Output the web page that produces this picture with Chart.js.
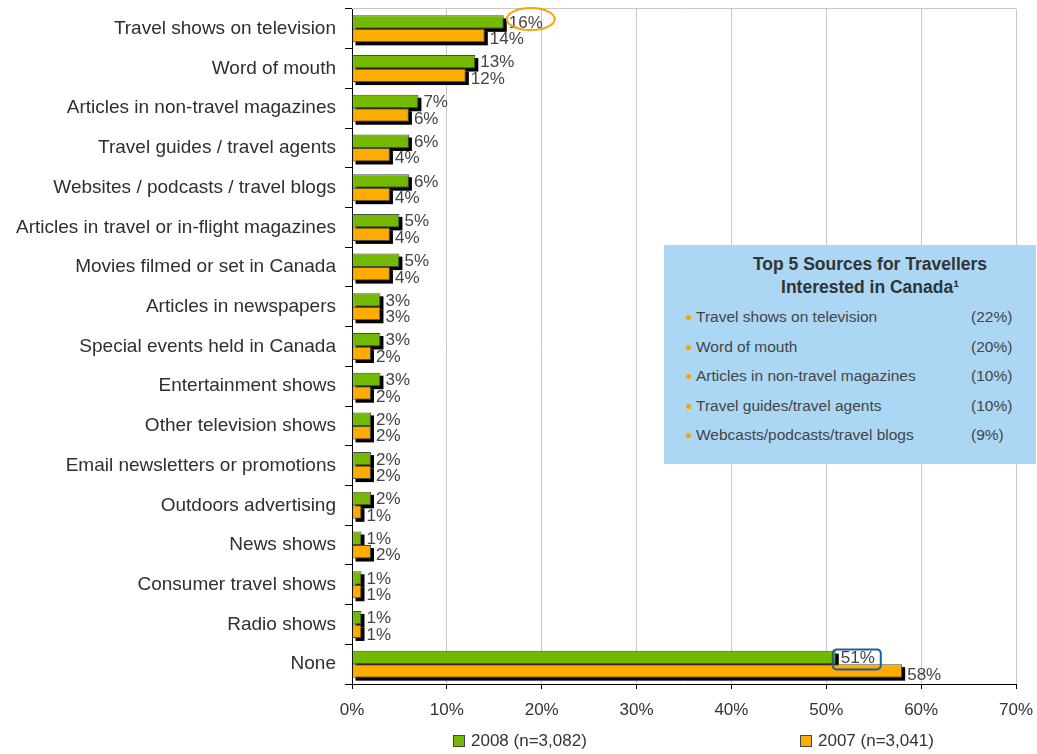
<!DOCTYPE html>
<html>
<head>
<meta charset="utf-8">
<script src="https://cdn.jsdelivr.net/npm/chart.js@4/dist/chart.umd.min.js"></script>
<style>
body { margin: 0; background: #fff; font-family: 'Liberation Sans', Arial, sans-serif; }
#wrap { position: relative; width: 1037px; height: 754px; }
#topBox { position: absolute; left: 664px; top: 245px; width: 372px; height: 219px; background: #abd7f4; color: #444; }
#topBox h3 { margin: 0; position: absolute; left: 40px; right: 0; top: 8px; text-align: center; font-size: 17.5px; line-height: 23px; color: #333; font-weight: bold; }
#topBox ul { list-style: none; margin: 0; padding: 0; position: absolute; left: 20px; top: 61px; width: 340px; }
#topBox li { position: relative; height: 29.5px; line-height: 22px; font-size: 15.5px; padding-left: 12px; }
#topBox li::before { content: ''; position: absolute; left: 2px; top: 9px; width: 5px; height: 5px; border-radius: 50%; background: #f5a400; }
#topBox li span { position: absolute; left: 287px; }
</style>
</head>
<body>
<div id="wrap">
<canvas id="chart" width="1037" height="754"></canvas>
<div id="topBox">
    <h3>Top 5 Sources for Travellers<br>Interested in Canada¹</h3>
    <ul id="topList"></ul>
</div>
</div>
<script>
const categories = [
    'Travel shows on television',
    'Word of mouth',
    'Articles in non-travel magazines',
    'Travel guides / travel agents',
    'Websites / podcasts / travel blogs',
    'Articles in travel or in-flight magazines',
    'Movies filmed or set in Canada',
    'Articles in newspapers',
    'Special events held in Canada',
    'Entertainment shows',
    'Other television shows',
    'Email newsletters or promotions',
    'Outdoors advertising',
    'News shows',
    'Consumer travel shows',
    'Radio shows',
    'None'
];
const values2008 = [16, 13, 7, 6, 6, 5, 5, 3, 3, 3, 2, 2, 2, 1, 1, 1, 51];
const values2007 = [14, 12, 6, 4, 4, 4, 4, 3, 2, 2, 2, 2, 1, 2, 1, 1, 58];
const xTicks = [0, 10, 20, 30, 40, 50, 60, 70];

const topSources = ['Travel shows on television', 'Word of mouth', 'Articles in non-travel magazines', 'Travel guides/travel agents', 'Webcasts/podcasts/travel blogs'];
const topShares = [22, 20, 10, 10, 9];

const FONT = "'Liberation Sans', Arial, sans-serif";

// side box list
let list = document.getElementById('topList');
topSources.forEach((s, i) => {
    let li = document.createElement('li');
    li.textContent = s;
    let span = document.createElement('span');
    span.textContent = '(' + topShares[i] + '%)';
    li.appendChild(span);
    list.appendChild(li);
});

// black drop shadow under every bar
const barShadow = {
    id: 'barShadow',
    beforeDatasetsDraw(chart) {
        let ctx = chart.ctx;
        ctx.save();
        ctx.fillStyle = '#000';
        chart.data.datasets.forEach((ds, di) => {
            chart.getDatasetMeta(di).data.forEach(el => {
                let p = el.getProps(['x', 'y', 'base', 'height'], true);
                ctx.fillRect(p.base + 3, p.y - p.height / 2 + 3, p.x - p.base, p.height);
            });
        });
        ctx.restore();
    }
};

// value labels + call-out marks
const valueLabels = {
    id: 'valueLabels',
    afterDatasetsDraw(chart) {
        let ctx = chart.ctx;
        ctx.save();
        ctx.font = '17px ' + FONT;
        ctx.fillStyle = '#444';
        ctx.textBaseline = 'middle';
        chart.data.datasets.forEach((ds, di) => {
            chart.getDatasetMeta(di).data.forEach((el, i) => {
                let p = el.getProps(['x', 'y'], true);
                ctx.fillText(ds.data[i] + '%', p.x + 5, p.y + (di == 0 ? 1 : 4));
            });
        });

        // orange ring around top 2008 value
        let a = chart.getDatasetMeta(0).data[0].getProps(['x', 'y'], true);
        ctx.strokeStyle = '#f6a500';
        ctx.lineWidth = 2;
        ctx.beginPath();
        ctx.ellipse(a.x + 27, a.y - 3, 24, 11, 0, 0, Math.PI * 2);
        ctx.stroke();

        // blue box around "None" 2008 value
        let b = chart.getDatasetMeta(0).data[categories.length - 1].getProps(['x', 'y'], true);
        ctx.strokeStyle = '#1d5e9c';
        ctx.beginPath();
        ctx.roundRect(b.x - 3, b.y - 8, 48, 20, 4);
        ctx.stroke();
        ctx.restore();
    }
};

// legend spread under the axis
const bottomLegend = {
    id: 'bottomLegend',
    afterDraw(chart) {
        let ctx = chart.ctx;
        let spots = [453, 800];
        ctx.save();
        ctx.font = '17px ' + FONT;
        ctx.textBaseline = 'middle';
        chart.data.datasets.forEach((ds, di) => {
            let x = spots[di], y = 741;
            ctx.fillStyle = ds.backgroundColor;
            ctx.fillRect(x, y - 6, 12, 12);
            ctx.strokeStyle = '#444';
            ctx.lineWidth = 1;
            ctx.strokeRect(x + 0.5, y - 5.5, 11, 11);
            ctx.fillStyle = '#333';
            ctx.fillText(ds.label, x + 18, y);
        });
        ctx.restore();
    }
};

new Chart(document.getElementById('chart'), {
    type: 'bar',
    data: {
        labels: categories,
        datasets: [
            { label: '2008 (n=3,082)', data: values2008, backgroundColor: '#73b900', borderColor: '#4a4a4a', borderWidth: 1, borderSkipped: false },
            { label: '2007 (n=3,041)', data: values2007, backgroundColor: '#ffac00', borderColor: '#4a4a4a', borderWidth: 1, borderSkipped: false }
        ]
    },
    options: {
        indexAxis: 'y',
        responsive: false,
        devicePixelRatio: 1,
        animation: false,
        layout: { padding: { top: 9, right: 21, left: 0, bottom: 0 } },
        datasets: { bar: { categoryPercentage: 0.68, barPercentage: 1.0 } },
        plugins: { legend: { display: false }, tooltip: { enabled: false } },
        scales: {
            x: {
                min: 0, max: 70,
                afterBuildTicks: s => { s.ticks = xTicks.map(v => ({ value: v })); },
                ticks: { callback: v => v + '%', color: '#333', font: { family: FONT, size: 17 }, padding: 11 },
                grid: { color: '#c8c8c8', tickColor: '#000', tickLength: 5 },
                border: { color: '#000', width: 1 },
                afterFit: s => { s.height = 70; s.paddingLeft = 0; s.paddingRight = 0; }
            },
            y: {
                ticks: { color: '#2f2f2f', font: { family: FONT, size: 19 }, padding: 9 },
                grid: { color: c => c.index === 0 ? '#c8c8c8' : 'rgba(0,0,0,0)', tickColor: '#000', tickLength: 7 },
                border: { color: '#000', width: 1 },
                afterFit: s => { s.width = 352; s.paddingTop = 0; s.paddingBottom = 0; }
            }
        }
    },
    plugins: [barShadow, valueLabels, bottomLegend]
});
</script>
</body>
</html>
